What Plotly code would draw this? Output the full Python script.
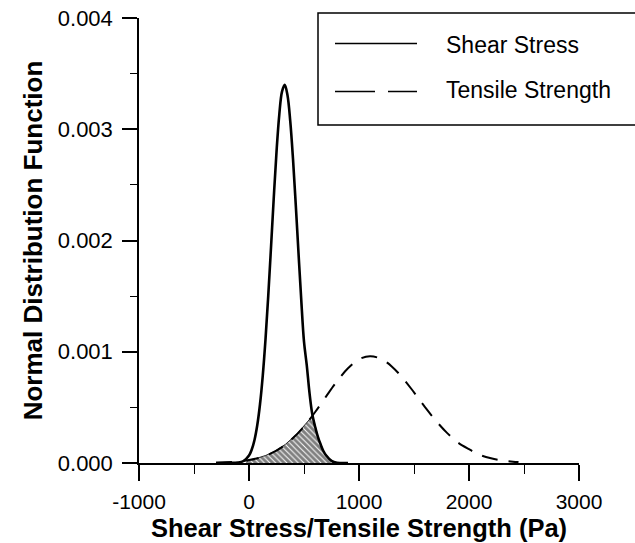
import numpy as np
import plotly.graph_objects as go

# Shear stress distribution
shear_x = [-300, -200, -100, -50, 0, 25, 50, 75, 100, 125, 150, 175, 200, 225, 250, 275,
           300, 325, 350, 375, 400, 425, 450, 475, 500, 525, 550, 575, 600, 625, 650,
           675, 700, 750, 800, 900]
shear_y = [0.0, 0.000001, 0.000004, 0.000018, 0.000067, 0.000121, 0.000207, 0.000339,
           0.000528, 0.000784, 0.001111, 0.001502, 0.001937, 0.002382, 0.002795, 0.003128,
           0.003338, 0.0034, 0.003305, 0.003073, 0.002733, 0.002323, 0.001888, 0.001466,
           0.00109, 0.00088, 0.00063, 0.00044, 0.00033, 0.00024, 0.00017,
           0.00011, 0.00007, 0.00002, 0.000003, 0.0]

# Tensile strength distribution
tensile_x = [-300, -200, -100, 0, 100, 200, 300, 400, 500, 600, 700, 800, 900, 1000, 1100,
             1200, 1300, 1400, 1500, 1600, 1700, 1800, 1900, 2000, 2100, 2200, 2300, 2400, 2450]
tensile_y = [0.0000028, 0.0000063, 0.0000133, 0.0000262, 0.000049, 0.0000862, 0.000143,
             0.000224, 0.000329, 0.000456, 0.000597, 0.000734, 0.000852, 0.000932, 0.00096,
             0.000936, 0.000866, 0.000761, 0.000635, 0.000503, 0.000379, 0.000271, 0.000184,
             0.000124, 0.0000725, 0.0000422, 0.0000233, 0.0000123, 0.000008]

x_ticks = [-1000, 0, 1000, 2000, 3000]
x_ticktext = ["-1000", "0", "1000", "2000", "3000"]
y_ticks = [0.0, 0.001, 0.002, 0.003, 0.004]
y_ticktext = ["0.000", "0.001", "0.002", "0.003", "0.004"]

legend_names = ["Shear Stress", "Tensile Strength"]

# overlap (hatched) region = min of both curves
grid = np.unique(np.concatenate([
    np.array([x for x in shear_x + tensile_x if -20 <= x <= 760], dtype=float),
    np.arange(-20, 761, 5, dtype=float)]))
overlap = np.minimum(np.interp(grid, shear_x, shear_y), np.interp(grid, tensile_x, tensile_y))

FONT = "Arial, Liberation Sans, sans-serif"

fig = go.Figure()
fig.add_trace(go.Scatter(
    x=np.concatenate([[grid[0]], grid, [grid[-1]]]),
    y=np.concatenate([[0], overlap, [0]]),
    mode="lines", line=dict(color="black", width=0.8),
    fill="toself", fillcolor="white",
    fillpattern=dict(shape="\\", size=4, solidity=0.75, fgcolor="black", bgcolor="white"),
    showlegend=False, hoverinfo="skip"))
fig.add_trace(go.Scatter(
    x=tensile_x, y=tensile_y, mode="lines", name=legend_names[1],
    line=dict(color="black", width=2, dash="16px,11px", shape="spline"), showlegend=False))
fig.add_trace(go.Scatter(
    x=shear_x, y=shear_y, mode="lines", name=legend_names[0],
    line=dict(color="black", width=2.6, shape="spline"), showlegend=False))

L, R, T, B = 139, 56, 18, 80
W, H = 635, 543
pw, ph = W - L - R, H - T - B

def px(xpix):
    return (xpix - L) / pw

def py(ypix):
    return (H - B - ypix) / ph

# manual legend
fig.add_shape(type="rect", xref="paper", yref="paper",
              x0=px(318), x1=px(645), y0=py(125), y1=py(13),
              line=dict(color="black", width=1.5), fillcolor="white", layer="above")
fig.add_shape(type="line", xref="paper", yref="paper",
              x0=px(335), x1=px(417), y0=py(43.5), y1=py(43.5),
              line=dict(color="black", width=1.5))
fig.add_shape(type="line", xref="paper", yref="paper",
              x0=px(335), x1=px(417), y0=py(91.5), y1=py(91.5),
              line=dict(color="black", width=1.5, dash="40px,13px"))
for name, yc in zip(legend_names, [45, 90]):
    fig.add_annotation(text=name, xref="paper", yref="paper", x=px(444), y=py(yc),
                       xanchor="left", yanchor="middle", showarrow=False,
                       font=dict(family=FONT, size=23, color="black"))

fig.update_layout(
    width=W, height=H, margin=dict(l=L, r=R, t=T, b=B, autoexpand=False),
    paper_bgcolor="white", plot_bgcolor="white",
    font=dict(family=FONT, color="black"),
    xaxis=dict(range=[-1000, 3000], showgrid=False, zeroline=False, showline=True,
               automargin=False,
               linecolor="black", linewidth=1.5, ticks="outside", ticklen=16, tickwidth=1.5,
               tickcolor="black", tickvals=x_ticks, ticktext=x_ticktext,
               tickfont=dict(size=21, family=FONT), ticklabelstandoff=3,
               minor=dict(dtick=500, tick0=-1000, ticks="outside", ticklen=9, tickwidth=1.2,
                          tickcolor="black", showgrid=False),
               title=dict(text="<b>Shear Stress/Tensile Strength (Pa)</b>",
                          font=dict(size=25.5, family=FONT), standoff=7)),
    yaxis=dict(range=[0, 0.004], showgrid=False, zeroline=False, showline=True,
               automargin=False,
               linecolor="black", linewidth=1.5, ticks="outside", ticklen=15, tickwidth=1.5,
               tickcolor="black", tickvals=y_ticks, ticktext=y_ticktext,
               tickfont=dict(size=22, family=FONT), ticklabelstandoff=5,
               minor=dict(dtick=0.0005, tick0=0, ticks="outside", ticklen=7, tickwidth=1.2,
                          tickcolor="black", showgrid=False),
               title=dict(text="<b>Normal Distribution Function</b>",
                          font=dict(size=26, family=FONT), standoff=8)),
)

fig.write_html("out.html")
